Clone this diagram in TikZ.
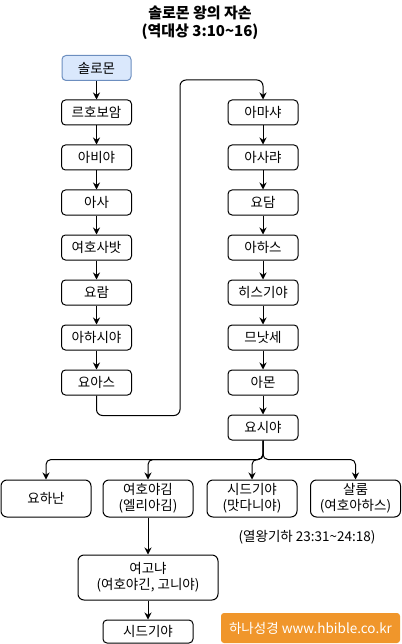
\documentclass[tikz,border=0pt]{standalone}
\usepackage{fontspec}
\setmainfont{Noto Sans CJK KR}
\usetikzlibrary{arrows.meta,calc}
\definecolor{bluefill}{HTML}{DAE8FC}
\definecolor{blueline}{HTML}{6C8EBF}
\definecolor{orangefill}{HTML}{F0962B}
\begin{document}
\begin{tikzpicture}[x=1pt,y=-1pt,
  box/.style={draw=black,line width=1pt,rounded corners=4pt,minimum width=70pt,minimum height=25pt,inner sep=0pt,font=\fontsize{13.5}{16}\selectfont,align=center},
  bigbox/.style={box,minimum width=90pt,minimum height=37pt,rounded corners=6pt,font=\fontsize{13.5}{16}\selectfont},
  arr/.style={line width=1pt,-{Stealth[length=7pt,width=7pt]}},
  note/.style={font=\fontsize{13.5}{16}\selectfont}]
\useasboundingbox (0,0) rectangle (401,644);
% title
\node[font=\bfseries\fontsize{15}{18}\selectfont,align=center] (title) at (200,23) {솔로몬 왕의 자손\\(역대상 3:10\char`~16)};
% left column
\node[box,fill=bluefill,draw=blueline,minimum width=69pt] (slm) at (96.5,68) {솔로몬};
\node[box] (rhb) at (96.5,112.5) {르호보암};
\node[box] (abj) at (96.5,157.5) {아비야};
\node[box] (asa) at (96.5,202.5) {아사};
\node[box] (yhs) at (96.5,247.5) {여호사밧};
\node[box] (yrm) at (96.5,292.5) {요람};
\node[box] (ahz) at (96.5,337.5) {아하시야};
\node[box] (yas) at (96.5,382.5) {요아스};
% right column
\node[box] (ams) at (263,112.5) {아마샤};
\node[box] (asr) at (263,157.5) {아사랴};
\node[box] (ydm) at (263,202.5) {요담};
\node[box] (ahs) at (263,247.5) {아하스};
\node[box] (hsk) at (263,292.5) {히스기야};
\node[box] (mns) at (263,337.5) {므낫세};
\node[box] (amn) at (263,382.5) {아몬};
\node[box] (ysa) at (263,427.5) {요시야};
% sons of Josiah
\node[bigbox] (yhn) at (46,498.5) {요하난};
\node[bigbox] (yhk) at (148,498.5) {여호야김\\(엘리아김)};
\node[bigbox] (sdk) at (252,498.5) {시드기야\\(맛다니야)};
\node[bigbox] (sal) at (355.5,498.5) {살룸\\(여호아하스)};
\node[note] (ref) at (307,537) {(열왕기하 23:31\char`~24:18)};
\node[bigbox,minimum width=140pt,minimum height=45pt] (ygn) at (148,577.5) {여고냐\\(여호야긴, 고니야)};
\node[box,minimum width=90pt,minimum height=23pt] (sdk2) at (148,631.5) {시드기야};
\node[fill=orangefill,rounded corners=3pt,minimum width=179pt,minimum height=30pt,inner sep=0pt,text=white,font=\fontsize{13.5}{16}\selectfont] (logo) at (310.5,628) {하나성경 www.hbible.co.kr};
% connectors left column
\draw[arr] (slm) -- (rhb);
\draw[arr] (rhb) -- (abj);
\draw[arr] (abj) -- (asa);
\draw[arr] (asa) -- (yhs);
\draw[arr] (yhs) -- (yrm);
\draw[arr] (yrm) -- (ahz);
\draw[arr] (ahz) -- (yas);
% cross-over
\coordinate (turn) at (180,80);
\draw[arr,rounded corners=6pt] (yas.south) -- ++(0,20) -| (turn) -| (ams.north);
% right column
\draw[arr] (ams) -- (asr);
\draw[arr] (asr) -- (ydm);
\draw[arr] (ydm) -- (ahs);
\draw[arr] (ahs) -- (hsk);
\draw[arr] (hsk) -- (mns);
\draw[arr] (mns) -- (amn);
\draw[arr] (amn) -- (ysa);
% branches
\foreach \c in {yhn,yhk,sdk,sal}
  \draw[arr,rounded corners=5pt] (ysa.south) |- ([yshift=20pt]\c.north) -- (\c.north);
\draw[arr] (yhk) -- (ygn);
\draw[arr] (ygn) -- (sdk2);
\end{tikzpicture}
\end{document}
